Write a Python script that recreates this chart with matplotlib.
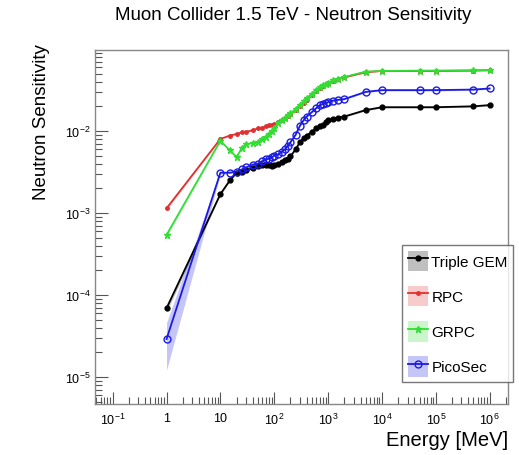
import matplotlib
matplotlib.use('Agg')
import matplotlib.pyplot as plt
import matplotlib.ticker as ticker
from matplotlib.patches import Patch
from matplotlib.lines import Line2D
import numpy as np

plt.rcParams['font.family'] = ['Liberation Sans', 'DejaVu Sans']
plt.rcParams['mathtext.fontset'] = 'custom'
plt.rcParams['mathtext.rm'] = 'Liberation Sans'
plt.rcParams['mathtext.it'] = 'Liberation Sans:italic'

# energies [MeV] (same grid for all detectors)
energy = [1, 10, 15, 20, 25, 30, 40, 50, 60, 70, 80, 90, 100, 120, 140, 160, 180, 200,
          250, 300, 350, 400, 500, 600, 700, 800, 900, 1000, 1250, 1500, 2000,
          5000, 1e4, 5e4, 1e5, 5e5, 1e6]

gem = [6.9e-5, 1.7e-3, 2.5e-3, 3.1e-3, 3.2e-3, 3.3e-3, 3.5e-3, 3.7e-3, 3.8e-3, 3.9e-3,
       3.8e-3, 3.7e-3, 3.8e-3, 4.0e-3, 4.2e-3, 4.4e-3, 4.6e-3, 4.9e-3,
       6.0e-3, 7.3e-3, 8.2e-3, 8.8e-3, 9.8e-3, 1.08e-2, 1.15e-2, 1.2e-2, 1.28e-2, 1.35e-2,
       1.42e-2, 1.45e-2, 1.5e-2, 1.8e-2, 1.95e-2, 1.95e-2, 1.95e-2, 2.0e-2, 2.07e-2]

rpc = [1.14e-3, 8.0e-3, 8.8e-3, 9.2e-3, 9.6e-3, 9.8e-3, 1.02e-2, 1.08e-2, 1.1e-2, 1.14e-2,
       1.18e-2, 1.2e-2, 1.22e-2, 1.3e-2, 1.38e-2, 1.45e-2, 1.52e-2, 1.6e-2,
       1.78e-2, 2.0e-2, 2.2e-2, 2.4e-2, 2.75e-2, 3.05e-2, 3.3e-2, 3.5e-2, 3.7e-2, 3.85e-2,
       4.1e-2, 4.3e-2, 4.5e-2, 5.2e-2, 5.4e-2, 5.4e-2, 5.4e-2, 5.45e-2, 5.5e-2]

grpc = [5.4e-4, 7.6e-3, 5.8e-3, 4.8e-3, 6.2e-3, 6.9e-3, 7.1e-3, 7.3e-3, 8.0e-3, 8.5e-3,
        9.2e-3, 1.0e-2, 1.1e-2, 1.25e-2, 1.35e-2, 1.45e-2, 1.55e-2, 1.65e-2,
        1.85e-2, 2.1e-2, 2.3e-2, 2.5e-2, 2.85e-2, 3.15e-2, 3.4e-2, 3.6e-2, 3.75e-2, 3.9e-2,
        4.15e-2, 4.35e-2, 4.55e-2, 5.3e-2, 5.4e-2, 5.45e-2, 5.45e-2, 5.5e-2, 5.55e-2]

pico = [2.9e-5, 3.1e-3, 3.1e-3, 3.2e-3, 3.4e-3, 3.6e-3, 3.9e-3, 4.0e-3, 4.3e-3, 4.5e-3,
        4.6e-3, 4.8e-3, 5.0e-3, 5.2e-3, 5.6e-3, 6.0e-3, 6.6e-3, 7.3e-3,
        9.0e-3, 1.16e-2, 1.35e-2, 1.5e-2, 1.7e-2, 1.9e-2, 2.05e-2, 2.15e-2, 2.2e-2, 2.25e-2,
        2.35e-2, 2.4e-2, 2.45e-2, 3.0e-2, 3.15e-2, 3.15e-2, 3.15e-2, 3.2e-2, 3.3e-2]

# relative statistical errors (band)
gem_err = [0.1, 0.03, 0.02, 0.02, 0.02, 0.02, 0.02, 0.02, 0.02, 0.02, 0.02, 0.02, 0.02,
           0.02, 0.02, 0.02, 0.02, 0.02, 0.02, 0.02, 0.02, 0.02, 0.02, 0.02, 0.02, 0.02,
           0.02, 0.02, 0.02, 0.02, 0.02, 0.02, 0.02, 0.02, 0.02, 0.02, 0.02]
rpc_err = [0.05, 0.01, 0.01, 0.01, 0.01, 0.01, 0.01, 0.01, 0.01, 0.01, 0.01, 0.01, 0.01,
           0.01, 0.01, 0.01, 0.01, 0.01, 0.01, 0.01, 0.01, 0.01, 0.01, 0.01, 0.01, 0.01,
           0.01, 0.01, 0.01, 0.01, 0.01, 0.01, 0.01, 0.01, 0.01, 0.01, 0.01]
grpc_err = [0.06, 0.01, 0.01, 0.01, 0.01, 0.01, 0.01, 0.01, 0.01, 0.01, 0.01, 0.01, 0.01,
            0.01, 0.01, 0.01, 0.01, 0.01, 0.01, 0.01, 0.01, 0.01, 0.01, 0.01, 0.01, 0.01,
            0.01, 0.01, 0.01, 0.01, 0.01, 0.01, 0.01, 0.01, 0.01, 0.01, 0.01]
pico_err = [0.58, 0.04, 0.02, 0.02, 0.02, 0.02, 0.02, 0.02, 0.02, 0.02, 0.02, 0.02, 0.02,
            0.02, 0.02, 0.02, 0.02, 0.02, 0.02, 0.02, 0.02, 0.02, 0.02, 0.02, 0.02, 0.02,
            0.02, 0.02, 0.02, 0.02, 0.02, 0.02, 0.02, 0.02, 0.02, 0.02, 0.02]

labels = ['Triple GEM', 'RPC', 'GRPC', 'PicoSec']
x_ticks = [1e-1, 1, 10, 1e2, 1e3, 1e4, 1e5, 1e6]
y_ticks = [1e-5, 1e-4, 1e-3, 1e-2]

fig = plt.figure(figsize=(5.19, 4.56), dpi=100)
ax = fig.add_axes([0.184, 0.112, 0.795, 0.776])

series = [
    (gem, gem_err, 'black', 'o', 3.5, 'black'),
    (rpc, rpc_err, '#e03030', 'o', 2.5, '#e03030'),
    (grpc, grpc_err, '#33dd33', '*', 4.5, '#33dd33'),
    (pico, pico_err, '#1a1ae6', 'o', 5, 'none'),
]

handles = []
E = np.array(energy)
for (vals, err, col, mk, ms, mfc), lab in zip(series, labels):
    v = np.array(vals)
    e = v * np.array(err)
    ax.fill_between(E, v - e, v + e, color=col, alpha=0.25, lw=0)
    ax.plot(E, v, color=col, lw=1.3, marker=mk, ms=ms, mfc=mfc, mec=col, mew=1.0)
    band = Patch(facecolor=col, alpha=0.25, edgecolor='none')
    line = Line2D([], [], color=col, lw=1.3, marker=mk, ms=ms, mfc=mfc, mec=col)
    handles.append((band, line))

ax.set_xscale('log')
ax.set_yscale('log')
ax.set_xlim(0.048, 2.2e6)
ax.set_ylim(4.7e-6, 0.097)


def fmt_x(x, pos):
    n = int(round(np.log10(x)))
    if n == 0:
        return '1'
    if n == 1:
        return '10'
    return r'$10^{%d}$' % n


ax.xaxis.set_major_locator(ticker.FixedLocator(x_ticks))
ax.xaxis.set_major_formatter(ticker.FuncFormatter(fmt_x))
ax.xaxis.set_minor_locator(ticker.LogLocator(base=10, subs=np.arange(2, 10), numticks=20))
ax.xaxis.set_minor_formatter(ticker.NullFormatter())
ax.yaxis.set_major_locator(ticker.FixedLocator(y_ticks))
ax.yaxis.set_major_formatter(ticker.FuncFormatter(lambda y, p: r'$10^{%d}$' % int(round(np.log10(y)))))
ax.yaxis.set_minor_locator(ticker.LogLocator(base=10, subs=np.arange(2, 10), numticks=20))
ax.yaxis.set_minor_formatter(ticker.NullFormatter())

ax.tick_params(which='both', direction='in', top=False, right=False,
               colors='#555555', labelcolor='black', labelsize=9)
ax.tick_params(which='major', length=9, width=0.8)
ax.tick_params(which='minor', length=5, width=0.8)
ax.tick_params(axis='x', pad=6)
for s in ax.spines.values():
    s.set_color('#888888')
    s.set_linewidth(1.0)

fig.text(0.564, 0.967, 'Muon Collider 1.5 TeV - Neutron Sensitivity', fontsize=13.5,
         ha='center', va='center')
ax.set_ylabel('Neutron Sensitivity', fontsize=13.5, ha='right')
ax.yaxis.set_label_coords(-0.11, 1.02)
ax.set_xlabel('Energy [MeV]', fontsize=14.5, loc='right', labelpad=2)

leg = ax.legend(handles, labels, loc='lower right', bbox_to_anchor=(1.012, 0.062),
                fontsize=11, frameon=True, fancybox=False, handlelength=1.3,
                handleheight=1.7, labelspacing=0.95, borderpad=0.35, handletextpad=0.25,
                borderaxespad=0.0)
leg.get_frame().set_edgecolor('#555555')
leg.get_frame().set_linewidth(1.0)

fig.savefig('out.png', dpi=100)
